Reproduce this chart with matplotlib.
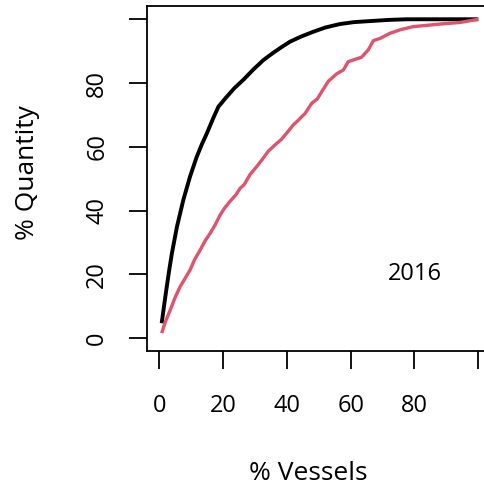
import matplotlib
matplotlib.use('Agg')
import matplotlib.pyplot as plt

plt.rcParams['font.family'] = ['Open Sans', 'DejaVu Sans']

# cumulative curves (% vessels, % quantity)
black_x = [0.7, 1.5, 2.3, 3.1, 3.9, 5.5, 7.5, 9.6, 11.7, 13.3, 14.9, 16.7, 18.5, 21.1, 23.6,
           26.3, 29.5, 32.6, 35.7, 38.5, 41.0, 44.5, 48.3, 52.0, 56.6, 61.0, 67.1, 72.0,
           77.6, 100]
black_y = [4.7, 10.6, 16.2, 21.6, 26.6, 35.0, 43.4, 50.7, 56.9, 60.8, 64.3, 68.6, 72.6, 75.7,
           78.5, 81.0, 84.3, 87.2, 89.5, 91.4, 93.0, 94.6, 96.1, 97.4, 98.5, 99.1, 99.5, 99.8,
           100, 100]

red_x = [0.7, 1.8, 3.4, 5.0, 6.5, 8.0, 9.6, 11.0, 12.8, 14.3, 15.9, 17.5, 19.0, 20.5, 22.2,
         24.0, 25.3, 26.6, 28.4, 30.5, 32.2, 34.2, 36.8, 38.2, 39.9, 42.0, 43.5, 45.7, 47.8,
         49.5, 50.9, 53.0, 53.8, 55.6, 57.7, 59.2, 61.0, 63.4, 65.5, 67.1, 69.2, 72.3, 75.5,
         79.6, 84.0, 88.0, 94.3, 100]
red_y = [1.6, 5.0, 8.9, 13.0, 16.2, 18.7, 21.4, 24.6, 27.7, 30.5, 32.9, 35.6, 38.6, 40.9, 43.0,
         45.0, 47.0, 48.2, 51.3, 53.8, 56.0, 58.7, 61.1, 62.3, 64.3, 66.9, 68.3, 70.5, 73.7,
         75.0, 77.3, 80.6, 81.3, 82.9, 84.1, 86.7, 87.3, 88.1, 90.4, 93.3, 94.0, 95.6, 96.7,
         97.7, 98.1, 98.5, 99.0, 100]

ticks = [0, 20, 40, 60, 80, 100]
tick_labels = ['0', '20', '40', '60', '80', '']

fig = plt.figure(figsize=(4.84, 4.90), dpi=100)
ax = fig.add_axes([146.7/484, 1-351/490, (491-146.7)/484, (351-6.5)/490])

ax.plot(black_x, black_y, color='black', lw=2.8, solid_capstyle='butt')
ax.plot(red_x, red_y, color='#DF536B', lw=2.4, solid_capstyle='butt')
ax.text(80, 20, '2016', fontsize=17, ha='center', va='center')

ax.set_xlim(-4, 104)
ax.set_ylim(-4, 104)
ax.set_xticks(ticks)
ax.set_xticklabels(tick_labels)
ax.set_yticks(ticks)
ax.set_yticklabels(tick_labels, rotation=90, va='center')
ax.tick_params(direction='out', length=13, width=1.3, labelsize=17, pad=14)
ax.tick_params(axis='x', pad=18)
for s in ax.spines.values():
    s.set_linewidth(1.3)

fig.text(308.7/484, 1-473/490, '% Vessels', fontsize=19, ha='center', va='center')
fig.text(27/484, 1-173/490, '% Quantity', fontsize=19, ha='center', va='center', rotation=90)

fig.savefig('out.png', dpi=100)
